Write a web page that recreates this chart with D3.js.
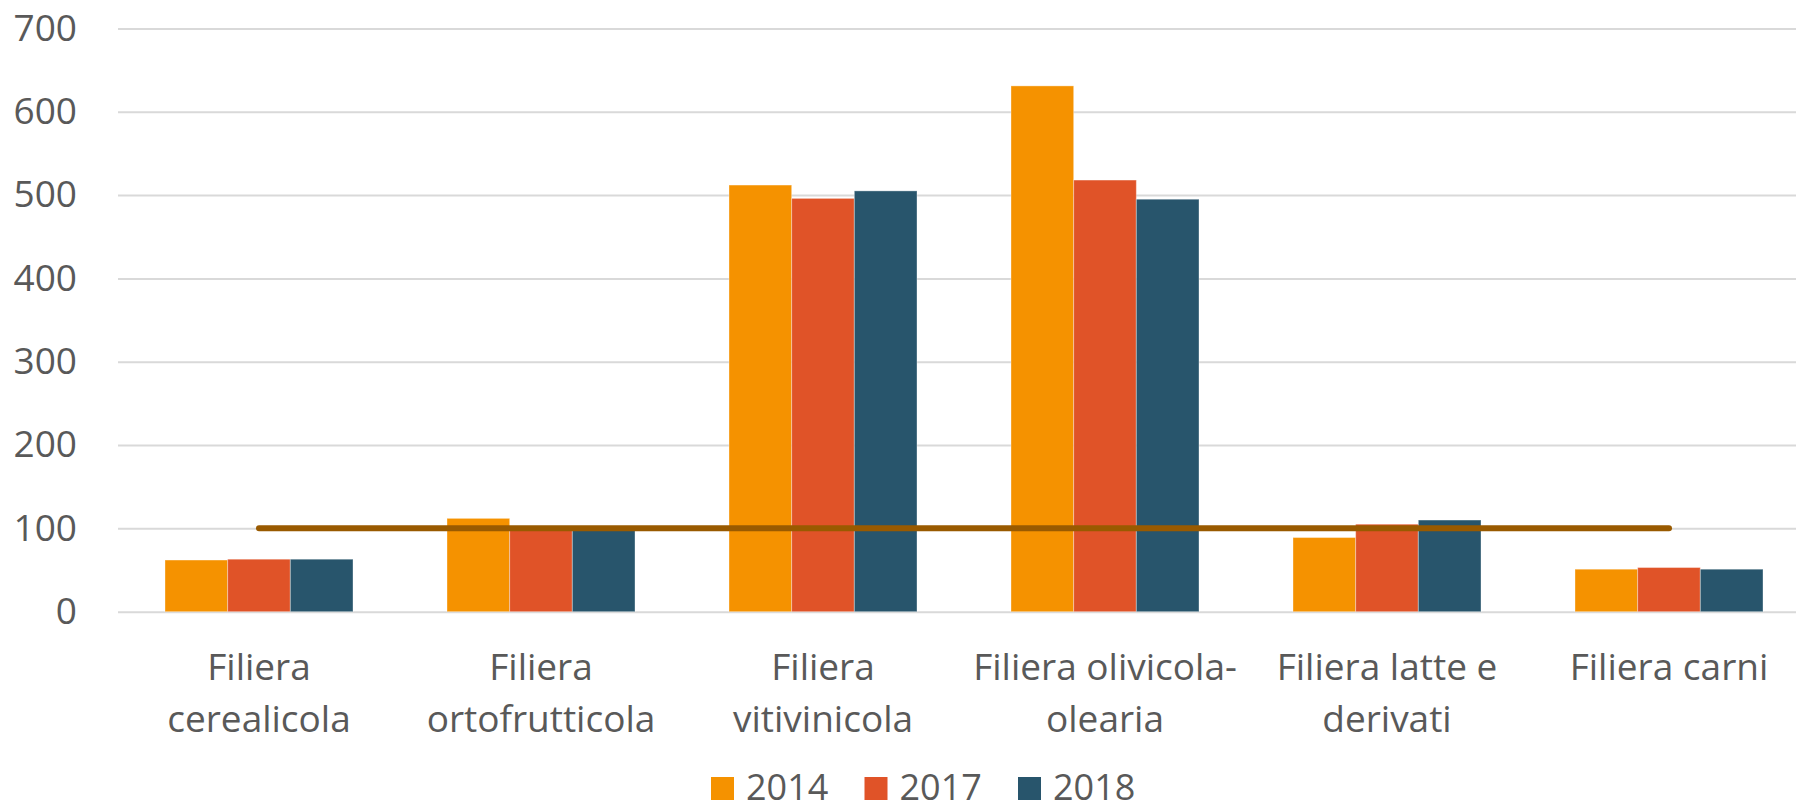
<!DOCTYPE html>
<html>
<head>
<meta charset="utf-8">
<script src="https://cdn.jsdelivr.net/npm/d3@7"></script>
<style>
  html, body { margin: 0; padding: 0; background: #ffffff; }
  svg { display: block; }
  text { font-family: "Open Sans", sans-serif; fill: #595959; }
</style>
</head>
<body>
<svg id="chart" width="1796" height="810"></svg>
<script>
// Filiere agroalimentari: confronto 2014 / 2017 / 2018
const categories = [
  "Filiera cerealicola",
  "Filiera ortofrutticola",
  "Filiera vitivinicola",
  "Filiera olivicola-olearia",
  "Filiera latte e derivati",
  "Filiera carni"
];
// Axis labels, split over lines as they are printed under each group
const categoryLines = [
  ["Filiera", "cerealicola"],
  ["Filiera", "ortofrutticola"],
  ["Filiera", "vitivinicola"],
  ["Filiera olivicola-", "olearia"],
  ["Filiera latte e", "derivati"],
  ["Filiera carni"]
];
const seriesNames = ["2014", "2017", "2018"];
const values2014 = [62, 112, 512, 631, 89, 51];
const values2017 = [63, 100, 496, 518, 105, 53];
const values2018 = [63, 100, 505, 495, 110, 51];
const referenceLevel = [100, 100, 100, 100, 100, 100];
const yTicks = [0, 100, 200, 300, 400, 500, 600, 700];

const seriesColors = ["#F59200", "#E05328", "#28556C"];
const lineColor = "#995A00";

const svg = d3.select("#chart");

const x0 = d3.scaleBand()
  .domain(categories)
  .range([118, 1810])
  .paddingInner(1 / 3)
  .paddingOuter(1 / 6);

const x1 = d3.scaleBand()
  .domain(seriesNames)
  .range([0, x0.bandwidth()])
  .padding(0);

const y = d3.scaleLinear()
  .domain([0, 700])
  .range([611.7, 28.4]);

const color = d3.scaleOrdinal().domain(seriesNames).range(seriesColors);

// Horizontal gridlines
const yAxis = d3.axisLeft(y)
  .tickValues(yTicks)
  .tickSize(-(1810 - 118))
  .tickPadding(41)
  .tickFormat(d3.format("d"));

const gY = svg.append("g")
  .attr("transform", "translate(118,0)")
  .call(yAxis);
gY.select(".domain").remove();
gY.selectAll(".tick line")
  .attr("stroke", "#D9D9D9")
  .attr("stroke-width", 2);
gY.selectAll(".tick text")
  .attr("font-size", 37)
  .attr("fill", "#595959")
  .attr("font-family", "'Open Sans', sans-serif");

// Bars
const rows = categories.map((c, i) => ({
  category: c,
  values: [values2014[i], values2017[i], values2018[i]].map((v, j) => ({ key: seriesNames[j], value: v }))
}));

const groups = svg.append("g")
  .selectAll("g")
  .data(rows)
  .join("g")
  .attr("transform", d => `translate(${x0(d.category)},0)`);

groups.selectAll("rect")
  .data(d => d.values)
  .join("rect")
  .attr("x", d => x1(d.key))
  .attr("y", d => y(d.value))
  .attr("width", x1.bandwidth())
  .attr("height", d => y(0) - y(d.value))
  .attr("fill", d => color(d.key))
  .attr("stroke", "rgba(255,255,255,0.35)")
  .attr("stroke-width", 1);

// Reference line at 100
const line = d3.line()
  .x((d, i) => x0(categories[i]) + x0.bandwidth() / 2)
  .y(d => y(d));

svg.append("path")
  .datum(referenceLevel)
  .attr("d", line)
  .attr("fill", "none")
  .attr("stroke", lineColor)
  .attr("stroke-width", 6)
  .attr("stroke-linecap", "round");

// Category labels
const labelG = svg.append("g");
categoryLines.forEach((lines, i) => {
  const cx = x0(categories[i]) + x0.bandwidth() / 2;
  const t = labelG.append("text")
    .attr("text-anchor", "middle")
    .attr("font-size", 37);
  lines.forEach((ln, k) => {
    t.append("tspan")
      .attr("x", cx)
      .attr("y", 680 + k * 52)
      .text(ln);
  });
});

// Legend
const legend = svg.append("g")
  .attr("transform", "translate(711,0)");
const items = legend.selectAll("g")
  .data(seriesNames)
  .join("g")
  .attr("transform", (d, i) => `translate(${i * 153.5},0)`);
items.append("rect")
  .attr("x", 0)
  .attr("y", 777)
  .attr("width", 23)
  .attr("height", 23)
  .attr("fill", d => color(d));
items.append("text")
  .attr("x", 35)
  .attr("y", 800)
  .attr("font-size", 36)
  .text(d => d);
</script>
</body>
</html>
